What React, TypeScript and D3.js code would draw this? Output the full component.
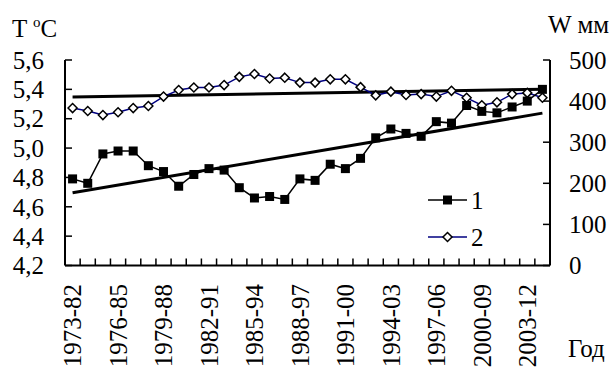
import React from "react";
import * as d3 from "d3";

const periods = [
  "1973-82", "1974-83", "1975-84", "1976-85", "1977-86", "1978-87", "1979-88", "1980-89",
  "1981-90", "1982-91", "1983-92", "1984-93", "1985-94", "1986-95", "1987-96", "1988-97",
  "1989-98", "1990-99", "1991-00", "1992-01", "1993-02", "1994-03", "1995-04", "1996-05",
  "1997-06", "1998-07", "1999-08", "2000-09", "2001-10", "2002-11", "2003-12", "2004-13",
];

// 1 - temperature, left axis
const temperature = [
  4.79, 4.76, 4.96, 4.98, 4.98, 4.88, 4.84, 4.74, 4.82, 4.86, 4.85, 4.73, 4.66, 4.67, 4.65, 4.79,
  4.78, 4.89, 4.86, 4.93, 5.07, 5.13, 5.10, 5.08, 5.18, 5.17, 5.29, 5.25, 5.24, 5.28, 5.32, 5.40,
];

// 2 - precipitation, right axis
const precipitation = [
  383, 376, 366, 373, 383, 388, 411, 427, 433, 433, 439, 459, 466, 455, 457, 445,
  445, 453, 453, 434, 414, 423, 415, 417, 411, 425, 408, 390, 397, 417, 420, 408,
];

const tempTicks = [4.2, 4.4, 4.6, 4.8, 5.0, 5.2, 5.4, 5.6];
const precipTicks = [0, 100, 200, 300, 400, 500];

const W = 614;
const H = 370;
const left = 65;
const right = 550;
const top = 60;
const bottom = 265.5;
const font = "'Liberation Serif', 'Times New Roman', serif";
const fs = 25;

function trend(values: number[]) {
  const n = values.length;
  const mx = (n - 1) / 2;
  const my = d3.mean(values) as number;
  let sxy = 0;
  let sxx = 0;
  values.forEach((v, i) => {
    sxy += (i - mx) * (v - my);
    sxx += (i - mx) * (i - mx);
  });
  const b = sxy / sxx;
  return [my - b * mx, my + b * (n - 1 - mx)];
}

export default function App() {
  const x = d3.scaleBand().domain(periods).range([left, right]).padding(0);
  const bw = x.bandwidth();
  const cx = (p: string) => (x(p) as number) + bw / 2;
  const yT = d3.scaleLinear().domain([4.2, 5.6]).range([bottom, top]);
  const yP = d3.scaleLinear().domain([0, 500]).range([bottom, top]);

  const lineT = d3
    .line<number>()
    .x((_, i) => cx(periods[i]))
    .y((d) => yT(d));
  const lineP = d3
    .line<number>()
    .x((_, i) => cx(periods[i]))
    .y((d) => yP(d));

  const tT = trend(temperature);
  const tP = trend(precipitation);
  const x0 = cx(periods[0]);
  const x1 = cx(periods[periods.length - 1]);
  const fmt = (v: number) => v.toFixed(1).replace(".", ",");

  const diamond = (px: number, py: number, s = 4.5) =>
    `M${px},${py - s}L${px + s},${py}L${px},${py + s}L${px - s},${py}Z`;

  return (
    <svg
      width={W}
      height={H}
      style={{ position: "absolute", left: 0, top: 0, background: "#fff" }}
      fontFamily={font}
    >
      {/* axes */}
      <line x1={left} x2={left} y1={top} y2={bottom} stroke="#000" strokeWidth={2} />
      <line x1={right} x2={right} y1={top} y2={bottom} stroke="#000" strokeWidth={2} />
      <line x1={left} x2={right} y1={bottom} y2={bottom} stroke="#000" strokeWidth={2} />
      {tempTicks.map((t) => (
        <g key={t}>
          <line x1={left} x2={left + 7} y1={yT(t)} y2={yT(t)} stroke="#000" strokeWidth={1.5} />
          <text x={44} y={yT(t)} dy="0.35em" textAnchor="end" fontSize={fs}>
            {fmt(t)}
          </text>
        </g>
      ))}
      {precipTicks.map((t) => (
        <g key={t}>
          <line x1={right - 7} x2={right} y1={yP(t)} y2={yP(t)} stroke="#000" strokeWidth={1.5} />
          <text x={569} y={yP(t)} dy="0.35em" textAnchor="start" fontSize={fs}>
            {t}
          </text>
        </g>
      ))}
      {periods.map((p, i) => (
        <g key={p}>
          {i > 0 && (
            <line
              x1={x(p) as number}
              x2={x(p) as number}
              y1={bottom}
              y2={bottom - 7}
              stroke="#000"
              strokeWidth={1.5}
            />
          )}
          {i % 3 === 0 && (
            <text
              transform={`translate(${cx(p)},284) rotate(-90)`}
              textAnchor="end"
              dy="0.35em"
              fontSize={fs}
            >
              {p}
            </text>
          )}
        </g>
      ))}

      {/* titles */}
      <text x={12} y={37} fontSize={fs}>
        T <tspan fontSize={15} dy={-10}>o</tspan>
        <tspan dy={10}>C</tspan>
      </text>
      <text x={548} y={33} fontSize={fs}>W мм</text>
      <text x={568} y={357} fontSize={fs}>Год</text>

      {/* trends */}
      <line x1={x0} x2={x1} y1={yT(tT[0])} y2={yT(tT[1])} stroke="#000" strokeWidth={3} />
      <line x1={x0} x2={x1} y1={yP(tP[0])} y2={yP(tP[1])} stroke="#000" strokeWidth={3} />

      {/* series 2 */}
      <path d={lineP(precipitation) as string} fill="none" stroke="#000080" strokeWidth={1.5} />
      {precipitation.map((v, i) => (
        <path key={i} d={diamond(cx(periods[i]), yP(v))} fill="#fff" stroke="#000" strokeWidth={1.5} />
      ))}

      {/* series 1 */}
      <path d={lineT(temperature) as string} fill="none" stroke="#000" strokeWidth={1.5} />
      {temperature.map((v, i) => (
        <rect
          key={i}
          x={cx(periods[i]) - 4.5}
          y={yT(v) - 4.5}
          width={9}
          height={9}
          fill="#000"
        />
      ))}

      {/* legend */}
      <line x1={428} x2={467} y1={200} y2={200} stroke="#000" strokeWidth={1.5} />
      <rect x={443} y={195.5} width={9} height={9} fill="#000" />
      <text x={471} y={200} dy="0.35em" fontSize={fs}>1</text>
      <line x1={428} x2={467} y1={237} y2={237} stroke="#000080" strokeWidth={1.5} />
      <path d={diamond(447.5, 237)} fill="#fff" stroke="#000" strokeWidth={1.5} />
      <text x={471} y={237} dy="0.35em" fontSize={fs}>2</text>
    </svg>
  );
}
